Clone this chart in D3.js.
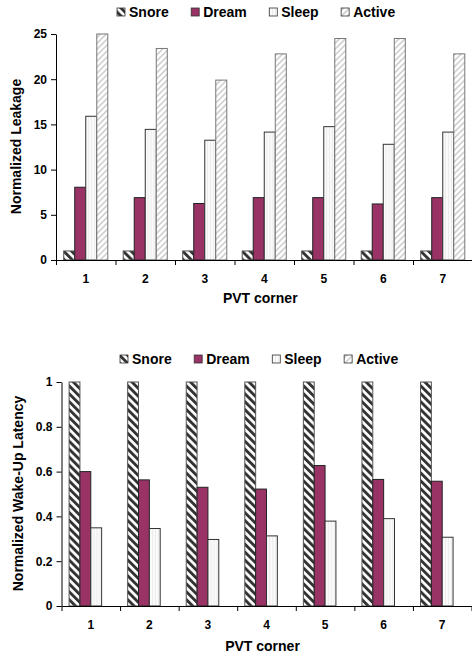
<!DOCTYPE html>
<html>
<head>
<meta charset="utf-8">
<script src="https://cdn.jsdelivr.net/npm/d3@7"></script>
<style>
  body { margin: 0; background: #fff; }
  text { font-family: "Liberation Sans", Arial, sans-serif; font-weight: bold; fill: #000; }
</style>
</head>
<body>
<div id="chart"></div>
<script>
// categories and series
const corners = ["1", "2", "3", "4", "5", "6", "7"];
const series = ["Snore", "Dream", "Sleep", "Active"];

// normalized leakage (top chart)
const leakSnore  = [1, 1, 1, 1, 1, 1, 1];
const leakDream  = [8.05, 6.9, 6.25, 6.9, 6.9, 6.2, 6.9];
const leakSleep  = [15.9, 14.45, 13.25, 14.15, 14.75, 12.8, 14.15];
const leakActive = [25, 23.4, 19.9, 22.8, 24.5, 24.5, 22.8];
const leakTicks  = [0, 5, 10, 15, 20, 25];

// normalized wake-up latency (bottom chart)
const latSnore  = [1, 1, 1, 1, 1, 1, 1];
const latDream  = [0.6, 0.563, 0.53, 0.522, 0.627, 0.565, 0.557];
const latSleep  = [0.349, 0.346, 0.297, 0.313, 0.379, 0.39, 0.307];
const latActive = [0, 0, 0, 0, 0, 0, 0];
const latTicks  = [0, 0.2, 0.4, 0.6, 0.8, 1];

const W = 472, H = 655;
const svg = d3.select("#chart").append("svg")
    .attr("width", W)
    .attr("height", H);

// fill patterns
const defs = svg.append("defs");

const snorePat = defs.append("pattern")
    .attr("id", "snore")
    .attr("patternUnits", "userSpaceOnUse")
    .attr("width", 5.6).attr("height", 5.6)
    .attr("patternTransform", "rotate(-45)");
snorePat.append("rect").attr("width", 5.6).attr("height", 5.6).attr("fill", "#fff");
snorePat.append("rect").attr("width", 2.9).attr("height", 5.6).attr("fill", "#333");

const activePat = defs.append("pattern")
    .attr("id", "active")
    .attr("patternUnits", "userSpaceOnUse")
    .attr("width", 4.2).attr("height", 4.2)
    .attr("patternTransform", "rotate(45)");
activePat.append("rect").attr("width", 4.2).attr("height", 4.2).attr("fill", "#fff");
activePat.append("rect").attr("width", 1.6).attr("height", 4.2).attr("fill", "#cfcfcf");

const sleepPat = defs.append("pattern")
    .attr("id", "sleep")
    .attr("patternUnits", "userSpaceOnUse")
    .attr("width", 3).attr("height", 3);
sleepPat.append("rect").attr("width", 3).attr("height", 3).attr("fill", "#fafafa");
sleepPat.append("rect").attr("x", 2).attr("width", 1).attr("height", 3).attr("fill", "#ececec");

const fills  = {Snore: "url(#snore)", Dream: "#993366", Sleep: "url(#sleep)", Active: "url(#active)"};
const stroke = {Snore: "#555", Dream: "#222", Sleep: "#333", Active: "#777"};

function drawChart(opt) {
    const g = svg.append("g");

    const x = d3.scaleBand().domain(corners).range([opt.left, opt.right]);
    const xi = d3.scaleBand().domain(series).range([0, x.bandwidth()]).paddingOuter(0.7);
    const xEdge = d3.scaleLinear().domain([0, corners.length]).range([opt.left, opt.right]);
    const y = d3.scaleLinear().domain([0, opt.max]).range([opt.bottom, opt.top]);

    // bars
    const rows = corners.map((c, i) => ({c: c, vals: series.map((s, j) => ({s: s, v: opt.data[j][i]}))}));
    const groups = g.selectAll(".grp")
        .data(rows)
        .enter().append("g")
        .attr("transform", d => `translate(${x(d.c)},0)`);
    groups.selectAll("rect")
        .data(d => d.vals.filter(e => e.v > 0))
        .enter().append("rect")
        .attr("x", d => xi(d.s))
        .attr("y", d => y(d.v))
        .attr("width", xi.bandwidth())
        .attr("height", d => y(0) - y(d.v))
        .attr("fill", d => fills[d.s])
        .attr("stroke", d => stroke[d.s])
        .attr("stroke-width", 1);

    // y axis
    const yAxis = g.append("g")
        .attr("transform", `translate(${opt.left},0)`)
        .call(d3.axisLeft(y).tickValues(opt.ticks).tickFormat(d => String(d))
            .tickSize(5).tickPadding(4).tickSizeOuter(0));
    yAxis.selectAll("text").style("font-size", "12px");

    // x axis: edge ticks + labels
    g.append("g")
        .attr("transform", `translate(0,${opt.bottom})`)
        .call(d3.axisBottom(xEdge).tickValues(d3.range(corners.length + 1)).tickFormat("").tickSize(5).tickSizeOuter(0));
    const xAxis = g.append("g")
        .attr("transform", `translate(0,${opt.bottom})`)
        .call(d3.axisBottom(x).tickSize(0).tickPadding(14));
    xAxis.select(".domain").remove();
    xAxis.selectAll("text").style("font-size", "12px");

    g.selectAll(".domain, .tick line").attr("stroke", "#000");

    // axis titles
    g.append("text")
        .attr("x", (opt.left + opt.right) / 2 - 4)
        .attr("y", opt.xTitleY)
        .attr("text-anchor", "middle")
        .style("font-size", "14px")
        .text("PVT corner");
    g.append("text")
        .attr("transform", `translate(${opt.yTitleX},${opt.yTitleC}) rotate(-90)`)
        .attr("text-anchor", "middle")
        .style("font-size", "14px")
        .text(opt.yTitle);

    // legend
    let lx = opt.legendX;
    series.forEach(s => {
        g.append("rect")
            .attr("x", lx).attr("y", opt.legendY - 4)
            .attr("width", 8).attr("height", 8)
            .attr("fill", fills[s])
            .attr("stroke", "#333")
            .attr("stroke-width", 0.8);
        const t = g.append("text")
            .attr("x", lx + 12)
            .attr("y", opt.legendY + 5)
            .style("font-size", "14px")
            .text(s);
        lx += 12 + t.node().getComputedTextLength() + 22.5;
    });
}

drawChart({
    data: [leakSnore, leakDream, leakSleep, leakActive],
    ticks: leakTicks, max: 25,
    left: 56, right: 472.5, top: 34, bottom: 260,
    xTitleY: 303, yTitleX: 21, yTitleC: 146.5,
    yTitle: "Normalized Leakage",
    legendX: 117, legendY: 12
});

drawChart({
    data: [latSnore, latDream, latSleep, latActive],
    ticks: latTicks, max: 1,
    left: 61.5, right: 471.5, top: 382, bottom: 606,
    xTitleY: 651, yTitleX: 23, yTitleC: 493.5,
    yTitle: "Normalized Wake-Up Latency",
    legendX: 120, legendY: 359
});
</script>
</body>
</html>
